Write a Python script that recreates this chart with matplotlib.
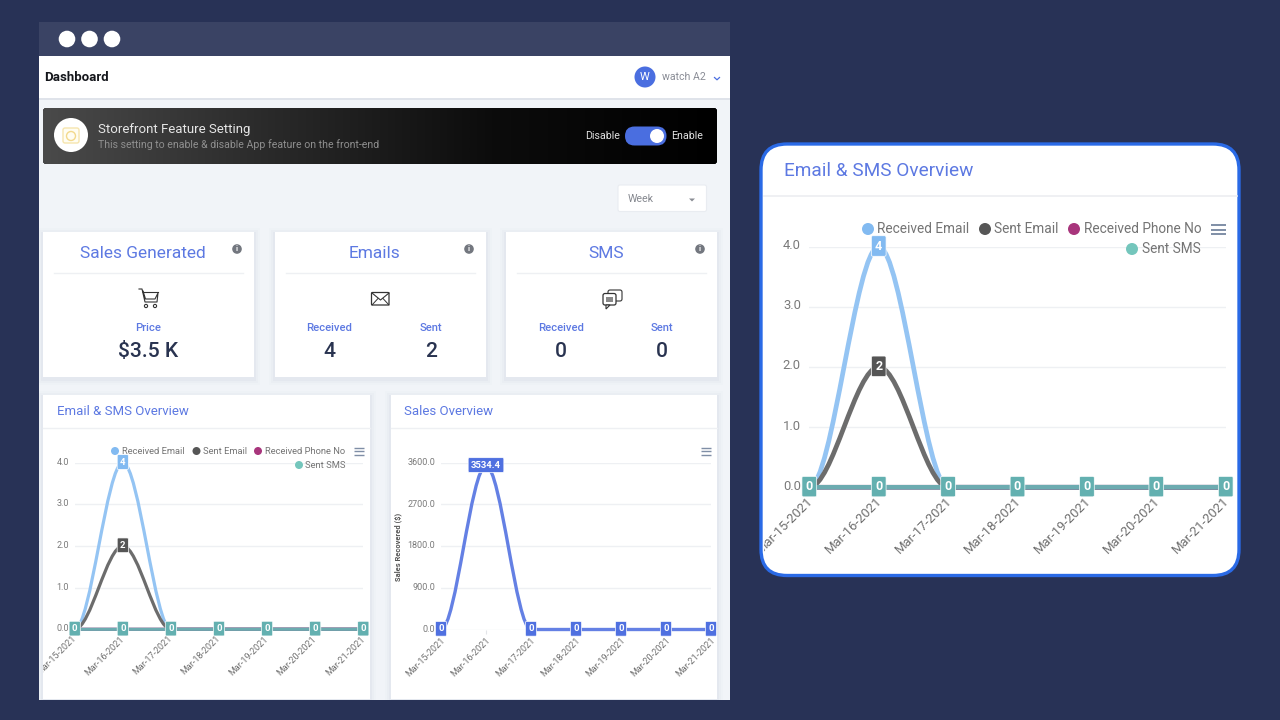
import numpy as np
import matplotlib
matplotlib.use("Agg")
import matplotlib.pyplot as plt
from matplotlib.colors import LinearSegmentedColormap
from matplotlib.patches import Circle, FancyBboxPatch, PathPatch, Polygon, Rectangle
from matplotlib.path import Path
from matplotlib.transforms import ScaledTranslation

plt.rcParams['font.family'] = ['Roboto', 'DejaVu Sans']

W, H = 1280, 720

# chart data
dates = ["Mar-15-2021", "Mar-16-2021", "Mar-17-2021", "Mar-18-2021",
         "Mar-19-2021", "Mar-20-2021", "Mar-21-2021"]
received_email = [0, 4, 0, 0, 0, 0, 0]
sent_email = [0, 2, 0, 0, 0, 0, 0]
received_phone = [0, 0, 0, 0, 0, 0, 0]
sent_sms = [0, 0, 0, 0, 0, 0, 0]
sales = [0, 3534.4, 0, 0, 0, 0, 0]
email_ticks = [0, 1, 2, 3, 4]
sales_ticks = [0, 900, 1800, 2700, 3600]

# colours
NAVY = "#283256"
BAR = "#3a4364"
PAGE = "#f1f4f8"
BLUE = "#5d79e2"
TEXT_DARK = "#293350"
C_RECV = "#94c4f3"
C_RECV_DOT = "#82baf1"
C_SENT = "#6c6c6c"
C_SENT_DOT = "#565656"
C_PHONE = "#a8357c"
C_SMS = "#6cabb0"
C_SMS_DOT = "#74c6bc"
C_SALES = "#6480e4"


def px(size):
    return size * 0.72


def pill(ax, x0, y0, x1, y1, r, **kw):
    box = FancyBboxPatch((x0 + r, y0 + r), x1 - x0 - 2 * r, y1 - y0 - 2 * r,
                         boxstyle=f"round,pad={r},rounding_size={r}", **kw)
    ax.add_patch(box)
    return box


def smooth_line(ax, xs, ys, color, lw):
    # monotone bezier between neighbouring points, flat at each point
    verts = [(xs[0], ys[0])]
    codes = [Path.MOVETO]
    for i in range(len(xs) - 1):
        dx = (xs[i + 1] - xs[i]) / 3
        verts += [(xs[i] + dx, ys[i]), (xs[i + 1] - dx, ys[i + 1]), (xs[i + 1], ys[i + 1])]
        codes += [Path.CURVE4] * 3
    ax.add_patch(PathPatch(Path(verts, codes), fc="none", ec=color, lw=lw,
                           clip_on=False, capstyle="round", zorder=3))


def value_label(ax, x, y, text, color, size, lift=0.5):
    ax.annotate(text, (x, y), xytext=(0, lift), textcoords="offset points",
                color="white", fontsize=px(size), fontweight="bold",
                ha="center", va="center", zorder=6, annotation_clip=False,
                bbox=dict(boxstyle="round,pad=0.3,rounding_size=0.12", fc=color, ec="white", lw=0.5))


def chart_axes(x0, x1, ytop, ybot, ylim, yticks, fmt_size, clip_patch, shift):
    ax = fig.add_axes([x0 / W, 1 - ybot / H, (x1 - x0) / W, (ybot - ytop) / H])
    ax.set_facecolor("none")
    ax.set_xlim(0, 6)
    ax.set_ylim(0, ylim)
    ax.set_xticks(range(len(dates)))
    ax.set_xticklabels(dates, rotation=45, ha="right", rotation_mode="anchor",
                       fontsize=px(fmt_size), color="#6f6f6f")
    ax.set_yticks(yticks)
    ax.set_yticklabels([f"{t:.1f}" for t in yticks], fontsize=px(fmt_size), color="#7a7a7a")
    ax.tick_params(axis="both", length=0)
    ax.tick_params(axis="y", pad=px(fmt_size * 0.65))
    ax.tick_params(axis="x", pad=px(fmt_size * 0.55))
    ax.grid(axis="y", color="#eef0f3", lw=1)
    ax.set_axisbelow(True)
    for s in ax.spines.values():
        s.set_visible(False)
    # labels in the original sit a little up and left of their anchor
    for lab in ax.get_xticklabels():
        lab.set_transform(lab.get_transform() + ScaledTranslation(-shift[0] / 72, 0, fig.dpi_scale_trans))
        lab.set_clip_on(True)
        lab.set_clip_path(clip_patch)
    for lab in ax.get_yticklabels():
        lab.set_transform(lab.get_transform() + ScaledTranslation(0, shift[1] / 72, fig.dpi_scale_trans))
    return ax


def email_chart(ax, lw, size):
    xs = list(range(len(dates)))
    smooth_line(ax, xs, received_email, C_RECV, lw)
    smooth_line(ax, xs, sent_email, C_SENT, lw)
    smooth_line(ax, xs, received_phone, C_PHONE, lw)
    smooth_line(ax, xs, sent_sms, C_SMS, lw)
    value_label(ax, xs[1], received_email[1], str(received_email[1]), C_RECV_DOT, size)
    value_label(ax, xs[1], sent_email[1], str(sent_email[1]), "#555555", size)
    for x, v in zip(xs, sent_sms):
        value_label(ax, x, v, str(v), "#63b0b0", size)


def menu_icon(ax, x0, x1, ys, lw):
    for y in ys:
        ax.plot([x0, x1], [y, y], color="#7f8ea6", lw=lw, solid_capstyle="butt", zorder=8)


def legend_item(ax, mx, tx, y, r, label, color, size):
    ax.add_patch(Circle((mx, y), r, fc=color, ec="none", zorder=8))
    ax.text(tx, y, label, fontsize=px(size), color="#747474", va="center", zorder=8)


fig = plt.figure(figsize=(W / 100, H / 100), dpi=100, facecolor=NAVY)

bg = fig.add_axes([0, 0, 1, 1], zorder=0)
bg.set_xlim(0, W)
bg.set_ylim(H, 0)
bg.axis("off")

# window frame
bg.add_patch(Rectangle((39, 22), 691, 678, fc=PAGE, ec="none"))
bg.add_patch(Rectangle((39, 22), 691, 34, fc=BAR, ec="none"))
for cx in (67, 89.5, 112):
    bg.add_patch(Circle((cx, 39), 8.3, fc="white", ec="none"))

# header
bg.add_patch(Rectangle((39, 97), 691, 3, fc="#dfe3ea", ec="none"))
bg.add_patch(Rectangle((39, 56), 691, 42, fc="white", ec="none"))
bg.text(44, 77.5, "Dashboard", fontsize=px(13.2), fontweight="bold", color="#15171c", va="center")
bg.add_patch(Circle((645, 77), 10.5, fc="#4a6ee0", ec="none"))
bg.text(645, 77.5, "W", fontsize=px(11), color="white", ha="center", va="center")
bg.text(662, 77.5, "watch A2", fontsize=px(10.5), color="#8a8d96", va="center")
bg.plot([714.5, 717, 719.5], [77.5, 79.8, 77.5], color="#4a6ee0", lw=0.9)

# banner with gradient
banner = pill(bg, 43, 108, 717, 164, 3, fc="black", ec="none")
grad = np.linspace(0, 1, 256).reshape(1, -1)
banner_cmap = LinearSegmentedColormap.from_list("banner", ["#4a4a4a", "#2a2a2a", "#0c0c0c", "#000000"])
im = bg.imshow(grad, extent=(43, 717, 164, 108), cmap=banner_cmap, aspect="auto", zorder=1)
im.set_clip_path(banner)
bg.set_xlim(0, W)
bg.set_ylim(H, 0)
bg.add_patch(Circle((71, 135), 17, fc="white", ec="none", zorder=2))
pill(bg, 63, 128, 79, 143, 2, fc="#fffdf2", ec="#f6e5ae", lw=1, zorder=3)
bg.add_patch(Circle((71, 136), 4.5, fc="none", ec="#f3d98c", lw=1, zorder=4))
bg.text(98, 129, "Storefront Feature Setting", fontsize=px(13.3), color="#e6e6e6", va="center", zorder=3)
bg.text(98, 144.5, "This setting to enable & disable App feature on the front-end", fontsize=px(10.5),
        color="#8f8f8f", va="center", zorder=3)
bg.text(585, 136, "Disable", fontsize=px(10.6), color="#e2e2e2", va="center", zorder=3)
bg.text(671, 136, "Enable", fontsize=px(10.6), color="#e2e2e2", va="center", zorder=3)
pill(bg, 625, 126.5, 666.5, 145.5, 9.5, fc="#4a6ee0", ec="none", zorder=3)
bg.add_patch(Circle((657, 136), 7, fc="white", ec="none", zorder=4))

# week select
pill(bg, 618, 185, 706.5, 211.5, 2, fc="white", ec="#e9ecf1", lw=0.8)
bg.text(628, 198.5, "Week", fontsize=px(10.6), color="#85888f", va="center")
bg.add_patch(Polygon([[689, 198.5], [695, 198.5], [692, 201.5]], fc="#8a8d94", ec="none"))


def card(x0, y0, x1, y1):
    for grow, alpha in ((6, 0.012), (4, 0.02), (2, 0.03)):
        bg.add_patch(Rectangle((x0 - grow, y0 - grow + 2), x1 - x0 + 2 * grow, y1 - y0 + 2 * grow,
                               fc="#3a4a7a", alpha=alpha, ec="none"))
    return bg.add_patch(Rectangle((x0, y0), x1 - x0, y1 - y0, fc="white", ec="none"))


def info_icon(cx, cy):
    bg.add_patch(Circle((cx, cy), 4.8, fc="#73777f", ec="none"))
    bg.text(cx, cy + 0.2, "i", fontsize=px(7.5), fontweight="bold", color="white", ha="center", va="center")


# stat cards
stat_cards = [(43, 254, 143, "Sales Generated"), (275, 486, 375, "Emails"), (506, 717, 606, "SMS")]
for x0, x1, tx, title in stat_cards:
    card(x0, 232, x1, 377)
    bg.text(tx, 253.5, title, fontsize=px(17.4), color=BLUE, ha="center", va="center")
    bg.plot([x0 + 11, x1 - 11], [273, 273], color="#eef0f3", lw=1)
    info_icon(x1 - 17, 249)

stat_items = [(148, "Price", "$3.5 K"), (329, "Received", "4"), (431, "Sent", "2"),
              (561, "Received", "0"), (662, "Sent", "0")]
for cx, lab, val in stat_items:
    bg.text(cx, 328, lab, fontsize=px(11.2), fontweight="medium", color=BLUE, ha="center", va="center")
    bg.text(cx, 351.5, val, fontsize=px(21), fontweight="medium", color=TEXT_DARK, ha="center", va="center")

# cart icon
bg.plot([139, 142, 145, 157, 158, 155, 145.5, 143], [289, 289, 302, 302, 293, 299, 299, 291],
        color="#333", lw=0.8)
bg.plot([143, 158], [292, 292], color="#333", lw=0.8)
bg.add_patch(Circle((146, 306), 1.6, fc="none", ec="#333", lw=0.8))
bg.add_patch(Circle((155, 306), 1.6, fc="none", ec="#333", lw=0.8))
# envelope icon
pill(bg, 371.5, 292.5, 389, 305, 1, fc="white", ec="#333", lw=0.9)
bg.plot([372, 380.5, 389], [293, 300, 293], color="#333", lw=0.8)
bg.plot([372, 378], [305, 298.5], color="#333", lw=0.7)
bg.plot([389, 383], [305, 298.5], color="#333", lw=0.7)
# chat icon
pill(bg, 608, 290, 622, 301, 2, fc="white", ec="#333", lw=0.8)
pill(bg, 603, 293.5, 616, 305, 2, fc="white", ec="#333", lw=0.9)
bg.add_patch(Polygon([[606, 305], [606, 309], [610, 305]], fc="white", ec="#333", lw=0.8))
bg.add_patch(Rectangle((606, 296.5), 7, 5, fc="#888", ec="none"))

# chart cards, clipped at the window bottom
left_card = card(43, 395, 370, 699)
right_card = card(391, 395, 717, 699)
bg.add_patch(Rectangle((0, 700), W, 20, fc=NAVY, ec="none", zorder=1))
bg.add_patch(Rectangle((730, 0), W - 730, H, fc=NAVY, ec="none", zorder=1))
bg.add_patch(Rectangle((0, 0), 39, H, fc=NAVY, ec="none", zorder=1))
for x0, x1 in ((43, 370), (391, 717)):
    bg.plot([x0, x1], [428, 428], color="#eef0f3", lw=1, zorder=2)
bg.text(57, 411.5, "Email & SMS Overview", fontsize=px(13.2), color=BLUE, va="center", zorder=2)
bg.text(404.5, 411.5, "Sales Overview", fontsize=px(13.2), color=BLUE, va="center", zorder=2)

# zoomed card on the right
pill(bg, 761, 144, 1239, 575.5, 26, fc="white", ec="#2a6ae6", lw=2.4, zorder=2)
bg.plot([764, 1237], [195.5, 195.5], color="#eceef1", lw=1.2, zorder=3)
bg.text(784, 171.5, "Email & SMS Overview", fontsize=px(19), color=BLUE, va="center", zorder=3)
# agg text only honours a rectangular clip
big_clip = Rectangle((763.5, 146), 473, 428, transform=bg.transData)

# left chart
ax_left = chart_axes(74.7, 363.3, 462.7, 629.3, 4, email_ticks, 9, left_card, (2.2, 1))
ax_left.set_zorder(3)
email_chart(ax_left, 2.3, 9.5)

# sales chart
ax_sales = chart_axes(441, 711, 462.7, 629.5, 3600, sales_ticks, 9, right_card, (2.2, 1))
ax_sales.set_zorder(3)
ax_sales.tick_params(axis="x", length=3, color="#e3e5e9", pad=1.5)
smooth_line(ax_sales, list(range(len(dates))), sales, C_SALES, 2.4)
for x, v in enumerate(sales):
    value_label(ax_sales, x, v, str(v), "#4f70e0", 9.5)

# big chart
ax_big = chart_axes(809.3, 1225.7, 246.7, 487.3, 4, email_ticks, 13, big_clip, (2.2, 1.8))
ax_big.set_zorder(3)
email_chart(ax_big, 3.4, 12.5)

# overlay for legends and menu icons
ov = fig.add_axes([0, 0, 1, 1], zorder=5)
ov.set_xlim(0, W)
ov.set_ylim(H, 0)
ov.axis("off")
ov.patch.set_alpha(0)

legend_item(ov, 115, 122, 451, 4, "Received Email", C_RECV_DOT, 9.4)
legend_item(ov, 196.5, 203, 451, 4, "Sent Email", C_SENT_DOT, 9.4)
legend_item(ov, 258, 265, 451, 4, "Received Phone No", C_PHONE, 9.4)
legend_item(ov, 299, 305, 465, 4, "Sent SMS", C_SMS_DOT, 9.4)
menu_icon(ov, 353.5, 364, [448, 451.3, 455], 1)
menu_icon(ov, 701, 711, [448, 451.3, 455], 1)

legend_item(ov, 868, 877, 229, 6, "Received Email", C_RECV_DOT, 13.6)
legend_item(ov, 985, 994, 229, 6, "Sent Email", C_SENT_DOT, 13.6)
legend_item(ov, 1074, 1084, 229, 6, "Received Phone No", C_PHONE, 13.6)
legend_item(ov, 1132, 1142, 249, 6, "Sent SMS", C_SMS_DOT, 13.6)
menu_icon(ov, 1211, 1226, [225, 229.5, 234], 1.4)

ov.text(398, 547, "Sales Recovered ($)", fontsize=px(7.5), fontweight="bold", color="#555",
        rotation=90, ha="center", va="center")

fig.savefig("out.png", dpi=100, facecolor=NAVY)
